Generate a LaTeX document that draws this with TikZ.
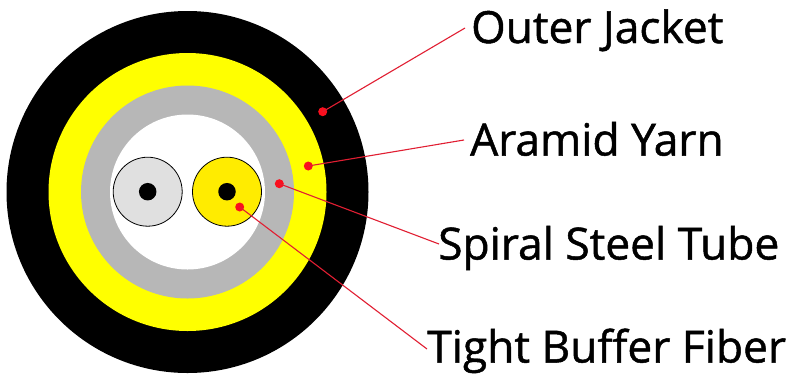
\documentclass[tikz,border=0pt]{standalone}
\usepackage{fontspec}
\newfontfamily\labfont[FakeBold=1.1]{Open Sans}
\definecolor{jackety}{RGB}{255,255,0}
\definecolor{fibery}{RGB}{255,236,0}
\definecolor{steelg}{RGB}{183,183,183}
\definecolor{fiberg}{RGB}{224,224,224}
\definecolor{leadred}{RGB}{225,30,50}
\definecolor{dotred}{RGB}{250,15,30}
\tikzset{
  lab/.style={inner sep=0pt,anchor=base west,font=\labfont\fontsize{44.3}{48}\selectfont},
  lead/.style={draw=leadred,line width=1.1pt},
  dotm/.style={circle,fill=dotred,inner sep=0pt,minimum size=9pt},
  fib/.style={circle,draw=black,line width=0.8pt,inner sep=0pt,minimum size=69pt},
  corec/.style={circle,fill=black,inner sep=0pt,minimum size=17.5pt},
  disc/.style={circle,inner sep=0pt}
}
\begin{document}
\begin{tikzpicture}[x=1pt,y=-1pt]
\useasboundingbox[fill=white] (0,0) rectangle (789,373);
\node[disc,fill=black,minimum size=362pt] (jacket) at (187.5,192) {};
\node[disc,fill=jackety,minimum size=278pt] (yarn) at (187.5,192) {};
\node[disc,fill=steelg,minimum size=213pt] (steel) at (187.5,192) {};
\node[disc,fill=white,minimum size=155pt] (inner) at (187.5,192) {};
\node[fib,fill=fiberg] (f1) at (147.7,191.7) {};
\node[corec] (c1) at (147.7,191.7) {};
\node[fib,fill=fibery] (f2) at (227,191.7) {};
\node[corec] (c2) at (227,191.7) {};
\node[lab] (t1) at (471,43) {Outer Jacket};
\node[lab] (t2) at (470,155.5) {Aramid Yarn};
\node[lab] (t3) at (438,259.5) {Spiral Steel Tube};
\node[lab] (t4) at (427,362.5) {Tight Buffer Fiber};
\node[dotm] (d1) at (322.7,111.7) {};
\node[dotm] (d2) at (308.3,166) {};
\node[dotm] (d3) at (279.3,183.7) {};
\node[dotm] (d4) at (239.7,207) {};
\coordinate (e1) at (465,28);
\coordinate (e2) at (464,140);
\coordinate (e3) at (439,244);
\coordinate (e4) at (427,349);
\draw[lead] (d1.center) -- (e1);
\draw[lead] (d2.center) -- (e2);
\draw[lead] (d3.center) -- (e3);
\draw[lead] (d4.center) -- (e4);
\end{tikzpicture}
\end{document}
